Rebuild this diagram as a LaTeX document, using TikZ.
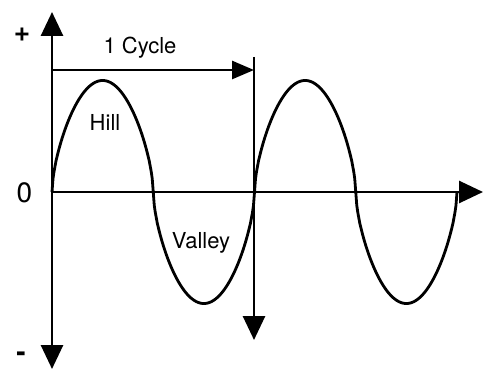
\documentclass[tikz,border=0pt]{standalone}
\usepackage{fontspec}
\setmainfont{TeX Gyre Heros}
\usetikzlibrary{arrows.meta}
\begin{document}
\begin{tikzpicture}[x=1pt,y=-1pt,
  axis/.style={line width=2.8pt,-{Triangle[length=24pt,width=22pt]}},
  cyclearrow/.style={line width=2.8pt,-{Triangle[length=22pt,width=18pt]}},
  wave/.style={line width=2.8pt,line join=round},
  lbl/.style={font=\fontsize{22}{26}\selectfont,inner sep=0pt},
  sign/.style={font=\fontsize{28}{32}\selectfont,inner sep=0pt},
  declare function={wv(\t)=sign(sin(\t))*(abs(sin(\t))+0.00001)^0.62;}]
\useasboundingbox (0,0) rectangle (484,371);
\coordinate (O) at (52,192);
\coordinate (ytop) at (52,12);
\coordinate (ybot) at (52,369);
\coordinate (xend) at (483,192);
\coordinate (c1) at (52,70);
\coordinate (c2) at (254,70);
\coordinate (vtop) at (254,57);
\coordinate (vbot) at (254,340);
\draw[axis] (O) -- (ytop);
\draw[axis] (O) -- (ybot);
\draw[axis] (O) -- (xend);
\draw[axis] (vtop) -- (vbot);
\draw[cyclearrow] (c1) -- (c2);
\draw[wave] plot[domain=0:405,samples=401] ({52+\x},{192-111.5*wv(\x/202.5*360)});
\node[sign,font=\fontsize{28}{32}\selectfont\bfseries] (plus) at (22,34.5) {+};
\node[sign] (zero) at (24.5,193) {0};
\node[sign,font=\fontsize{28}{32}\selectfont\bfseries] (minus) at (21,357) {-};
\node[lbl] (cycle) at (140,48) {1 Cycle};
\node[lbl] (hill) at (105,122) {Hill};
\node[lbl] (valley) at (201,243) {Valley};
\end{tikzpicture}
\end{document}
